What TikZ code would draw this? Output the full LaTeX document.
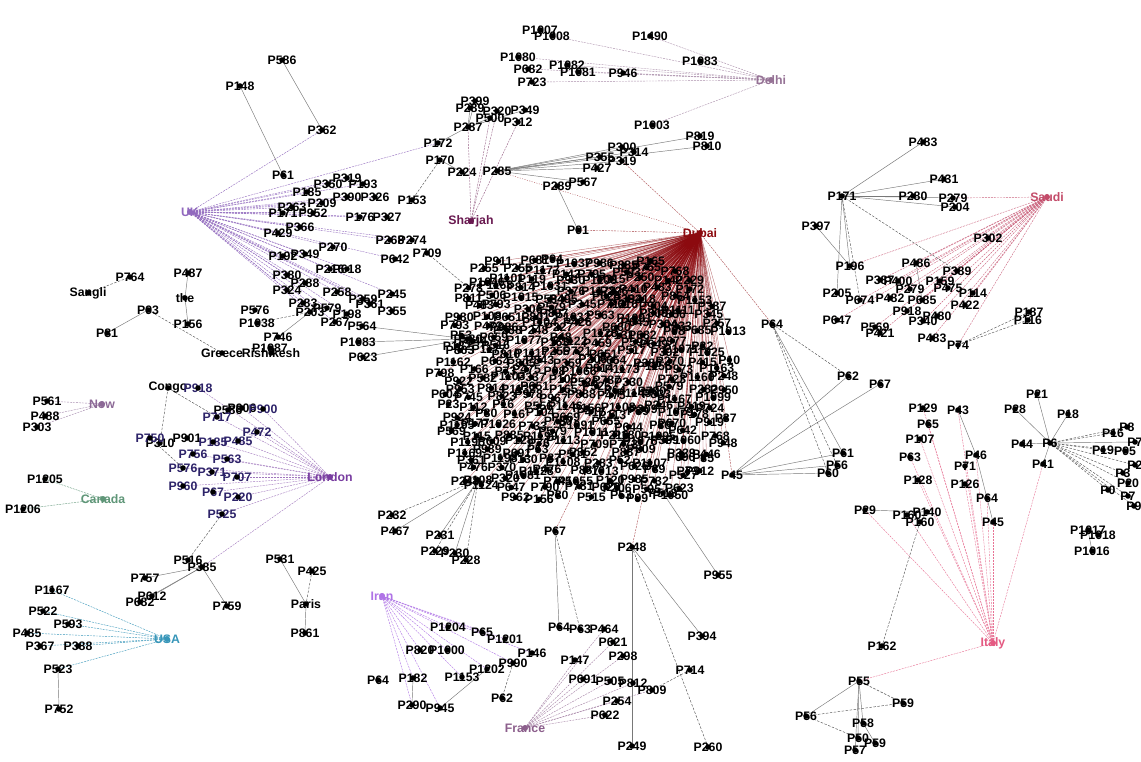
\documentclass[tikz,border=0pt]{standalone}
\usepackage{fontspec}
\setmainfont{Liberation Sans}
\pgfdeclarelayer{edges}
\pgfsetlayers{edges,main}
\newcommand\labfont{\bfseries\fontsize{12.3}{13}\selectfont}
\definecolor{dubaiC}{RGB}{140,10,15}
\definecolor{ukC}{RGB}{145,105,190}
\definecolor{shaC}{RGB}{105,25,80}
\definecolor{delC}{RGB}{150,115,150}
\definecolor{sauC}{RGB}{195,75,105}
\definecolor{itaC}{RGB}{228,90,130}
\definecolor{lonC}{RGB}{120,60,160}
\definecolor{nowC}{RGB}{140,105,150}
\definecolor{canC}{RGB}{95,150,120}
\definecolor{usaC}{RGB}{55,150,185}
\definecolor{iraC}{RGB}{175,115,230}
\definecolor{fraC}{RGB}{140,95,140}
\definecolor{navC}{RGB}{45,35,105}
\definecolor{edgeG}{RGB}{120,120,120}
\newcommand\mkP[4]{\node[lab] (#1) at (#2,#3) {#4}; \fill (#1.center) circle (2.8);}
\newcommand\mkN[4]{\node[lab,text=navC] (#1) at (#2,#3) {#4}; \fill (#1.center) circle (2.8);}
\newcommand\mkH[5]{\node[lab,text=#5] (#1) at (#2,#3) {#4}; \fill[#5] (#1.center) circle (3);}
\begin{document}
\begin{tikzpicture}[x=1pt,y=-1pt,
  lab/.style={font=\labfont, inner sep=0pt, text=black},
  gl/.style={draw=edgeG, line width=0.45pt},
  gd/.style={draw=edgeG!70!black, line width=0.45pt, dash pattern=on 2.5pt off 1.5pt},
  hubline/.style={line width=0.4pt, dash pattern=on 2pt off 1pt},
  dubline/.style={draw=dubaiC, draw opacity=0.6, line width=0.35pt}]
\useasboundingbox (0,0) rectangle (1141,762);
% ---------- hubs
\mkH{dub}{700}{233}{Dubai}{dubaiC}
\mkH{uk}{190}{212}{UK}{ukC}
\mkH{sharjah}{471}{221}{Sharjah}{shaC}
\mkH{delhi}{771}{80}{Delhi}{delC}
\mkH{saudi}{1047}{197}{Saudi}{sauC}
\mkH{italy}{993}{643}{Italy}{itaC}
\mkH{london}{330}{477}{London}{lonC}
\mkH{now}{102}{404}{Now}{nowC}
\mkH{canada}{103}{499}{Canada}{canC}
\mkH{usa}{167}{639}{USA}{usaC}
\mkH{iran}{382}{596}{Iran}{iraC}
\mkH{france}{525}{728}{France}{fraC}
% ---------- black nodes
\foreach \n/\x/\y/\t in {
 p586/282/60/P586, p148/240/86/P148, p362/322/130/P362, p61u/283/175/P61,
 u319/347/178/P319, u350/328/184/P350, u193/363/184/P193, u185/307/192/P185,
 u390/347/197/P390, u326/375/197/P326, u209/322/203/P209, u262/292/207/P263,
 u171/283/213/P171, u952/313/213/P952, u176/360/217/P176, u327/387/217/P327,
 u366/300/227/P366, u429/278/233/P429, u270/333/247/P270, u268/390/240/P268,
 u274/412/240/P274, u042/395/259/P642, u192/283/256/P192, u349/305/254/P349,
 u216/330/269/P216, u618/347/269/P618, u380/287/275/P380, u288/305/283/P288,
 u324/287/290/P324, u258/337/292/P258, u245/392/294/P245, u359/363/299/P359,
 u361/370/304/P361, u355/392/311/P355, u283/303/303/P283, u579/327/308/P579,
 u203/310/312/P203, u198/347/314/P198, u267/335/322/P267,
 p153/412/200/P153, p709/427/253/P709,
 u564/362/326/P564, u1083/358/342/P1083, u623/363/357/P623,
 p576/255/310/P576, p1038/257/323/P1038, p746/278/337/P746, p1987/270/348/P1987,
 p580/468/339/P580,
 sangli/88/293/Sangli, p764/130/277/P764, p487/188/273/P487, the/185/298/the,
 p156/188/324/P156, p93/148/310/P93, p81/107/333/P81, greece/222/353/Greece,
 rishi/271/353/Rishikesh,
 s399/475/101/P399, s289/470/108/P289, s320/497/111/P320, s349/525/110/P349,
 s287/468/127/P287, s500/490/118/P500, s312/518/122/P312,
 p172/438/143/P172, p170/440/160/P170, p224/462/172/P224, p285/497/171/P285,
 d300/622/147/P300, d314/634/152/P314, d355/600/157/P355, d319/622/161/P319,
 d427/597/168/P427, d567/583/182/P567, d289/557/186/P289, d91/578/230/P91,
 d819/700/136/P819, d810/707/146/P810, d1003/652/125/P1003,
 h1007/540/30/P1007, h1008/552/36/P1008, h1490/650/36/P1490, h1080/518/57/P1080,
 h1082/567/65/P1082, h682/528/69/P682, h1081/578/72/P1081, h946/623/73/P946,
 h1083/700/61/P1083, h723/532/82/P723,
 a483/923/142/P483, a431/944/179/P431, a171/842/196/P171, a280/913/196/P280,
 a279/953/198/P279, a204/955/207/P204, a397/816/226/P397, a302/988/238/P302,
 a196/850/266/P196, a486/916/263/P486, a389/957/271/P389, a387/880/280/P387,
 a400/898/281/P400, a159/940/281/P159, a279b/910/289/P279, a475/948/288/P475,
 a114/973/293/P114, a205/837/293/P205, a674/860/300/P674, a482/890/298/P482,
 a685/922/300/P685, a422/965/305/P422, a918/907/311/P918, a480/937/316/P480,
 a340/923/321/P340, a647/837/320/P647, a569/875/327/P569, a421/880/333/P421,
 a483b/932/338/P483, a74/958/345/P74, a187/1029/312/P187, a116/1028/320/P116,
 q64/772/324/P64, q62/848/376/P62, q67/880/384/P67, q61/843/453/P61,
 q56/837/465/P56, q60/828/473/P60, q45/732/475/P45,
 i129/923/408/P129, i65/928/424/P65, i107/920/439/P107, i3/910/457/P63,
 i128/918/480/P128, i43/958/410/P43, i46/976/455/P46, i71/965/466/P71,
 i126/965/484/P126, i64/987/498/P64, i45/993/522/P45, i29/865/510/P29,
 i140/927/512/P140, i160a/907/515/P160, i160/920/522/P160, i162/882/646/P162,
 r6/1050/443/P6, r21/1037/394/P21, r28/1015/409/P28, r18/1068/414/P18,
 r44/1022/444/P44, r41/1043/464/P41, r8/1127/427/P8, r16/1113/433/P16,
 r7a/1135/442/P7, r19/1103/450/P19, r95/1125/451/P95, r2x/1135/465/P2,
 r3/1123/473/P3, r20/1128/483/P20, r0/1108/490/P0, r7b/1128/496/P7,
 r9/1134/506/P9, r1017/1088/530/P1017, r1018/1098/535/P1018, r1016/1092/551/P1016,
 v55/859/681/P55, v59/903/703/P59, v56/806/716/P56, v58/863/723/P58,
 v50/858/738/P50, v59b/875/743/P59, v57/855/750/P57,
 congo/168/388/Congo, n586/228/410/P586, n906/242/408/P906, n310/160/443/P310,
 n901/187/438/P901,
 l516/188/560/P516, l385/202/567/P385, l757/145/578/P757, l612/152/596/P612,
 l682/140/602/P682, l759/227/606/P759,
 j531/280/559/P531, j425/312/571/P425, paris/306/604/Paris, j861/305/633/P861,
 o561/47/401/P561, o488/45/416/P488, o303/37/427/P303,
 k1205/45/479/P1205, k1206/23/509/P1206,
 t1167/52/590/P1167, t522/43/611/P522, t593/68/624/P593, t485/27/633/P485,
 t367/40/646/P367, t388/78/646/P388, t523/58/669/P523, t752/59/709/P752,
 w1204/448/627/P1204, w65/482/632/P65, w1201/505/639/P1201, w146/532/653/P146,
 w820/420/650/P820, w1000/447/650/P1000, w990/513/663/P990, w1202/487/669/P1202,
 w1153/462/677/P1153, w182/413/678/P182, w64/378/680/P64, w290/412/705/P290,
 w945/440/708/P945, w62/502/698/P62,
 b67/555/531/P67, f4/559/627/P64, f3/580/629/P63, f464/604/629/P464,
 f621/613/642/P621, f298/623/656/P298, f147/575/660/P147, f691/583/679/P691,
 f505/610/681/P505, f812/633/683/P812, f809/652/690/P809, f254/617/701/P254,
 f622/605/715/P622, b248/632/547/P248, f249/632/746/P249, b394/702/636/P394,
 b714/690/670/P714, b260/708/747/P260, b513/663/493/P513, b955/718/575/P955,
 g108/478/480/P108, g232/392/515/P232, g467/395/531/P467, g231/440/535/P231,
 g229/435/551/P229, g230/455/553/P230, g228/466/560/P228}
 {\mkP{\n}{\x}{\y}{\t}}
% ---------- navy London nodes
\foreach \n/\x/\y/\t in {
 n918/198/388/P918, n717/217/417/P717, n900/263/409/P900, n472/257/432/P472,
 n750/150/438/P750, n185/213/442/P185, n485/238/441/P485, n756/193/454/P756,
 n563/227/459/P563, n576/183/468/P576, n371/212/472/P371, n707/237/477/P707,
 n960/183/486/P960, n7/213/492/P67, n220/238/497/P220, n525/222/514/P525}
 {\mkN{\n}{\x}{\y}{\t}}
% ---------- Dubai cluster nodes
\pgfmathsetseed{4321}
\foreach \r in {0,...,26}{%
  \pgfmathsetmacro{\cyy}{262+9*\r}%
  \pgfmathsetmacro{\cdy}{abs(\cyy-380)/126}%
  \pgfmathsetmacro{\chw}{130*(1-\cdy^3)^(1/3)}%
  \pgfmathtruncatemacro{\cnn}{max(1,round(2*\chw/26))}%
  \foreach \k in {0,...,\cnn}{%
    \pgfmathsetmacro{\cxx}{585-\chw+\k*2*\chw/\cnn+9*rand+mod(\r,3)*7-7}%
    \pgfmathsetmacro{\cyj}{\cyy+3.5*rand}%
    \pgfmathrandominteger{\cnum}{1}{1199}%
    \node[lab] (c-\r-\k) at (\cxx,\cyj) {P\cnum};
    \fill (c-\r-\k.center) circle (2.8);
  }
}
% ---------- edges (one layer block)
\begin{pgfonlayer}{edges}
\fill[white] (0,0) rectangle (1141,762);
\foreach \r in {0,...,26}{%
  \pgfmathsetmacro{\cyy}{262+9*\r}%
  \pgfmathsetmacro{\cdy}{abs(\cyy-380)/126}%
  \pgfmathsetmacro{\chw}{130*(1-\cdy^3)^(1/3)}%
  \pgfmathtruncatemacro{\cnn}{max(1,round(2*\chw/26))}%
  \foreach \k in {0,...,\cnn}{%
    \draw[dubline] (dub.center) -- (c-\r-\k.center);
  }
}
\foreach \b in {d91,d319,q45,q64,b67,b248,b513}
  \draw[dubline,draw opacity=0.8,dash pattern=on 2pt off 1pt] (dub.center) -- (\b.center);
\draw[dubline,draw opacity=0.8,dash pattern=on 1pt off 1.5pt] (dub.center) -- (p285.center);
\foreach \b in {p362,u319,u350,u193,u185,u390,u326,u209,u262,u171,u952,u176,u327,u366,u429,u270,u268,u274,u042,u192,u349,u216,u618,u380,u288,u324,u258,u245,u359,u361,u355,u283,u579,u203,u198,u267,p172}
  \draw[hubline,draw=ukC] (uk.center) -- (\b.center);
\foreach \b in {s287,s500,s312,s320}
  \draw[hubline,draw=shaC!70] (sharjah.center) -- (\b.center);
\foreach \b in {h1008,h1490,h1080,h1082,h682,h1081,h946,h1083,h723,d1003}
  \draw[hubline,draw=delC!80] (delhi.center) -- (\b.center);
\foreach \b in {a279,a302,a196,a486,a389,a387,a400,a159,a279b,a475,a114,a685,a422,a918,a480,a340,a569,a421,a483b,a74,a674,a482,a647}
  \draw[hubline,draw=sauC!85] (saudi.center) -- (\b.center);
\foreach \b in {i129,i65,i107,i3,i128,i43,i46,i71,i126,i64,i45,i29,i160a,v55,r41}
  \draw[hubline,draw=itaC!85] (italy.center) -- (\b.center);
\foreach \b in {n918,n717,n906,n900,n472,n185,n485,n756,n563,n576,n371,n707,n960,n7,n220,n525,l385}
  \draw[hubline,draw=lonC!70] (london.center) -- (\b.center);
\foreach \b in {o561,o488,o303}
  \draw[hubline,draw=nowC!80] (now.center) -- (\b.center);
\foreach \b in {k1205,k1206}
  \draw[hubline,draw=canC] (canada.center) -- (\b.center);
\foreach \b in {t1167,t522,t593,t485,t367,t388,t523}
  \draw[hubline,draw=usaC] (usa.center) -- (\b.center);
\foreach \b in {w1204,w65,w1201,w146,w990,w1202,w1000,w820,w1153,w182,w290,w945}
  \draw[hubline,draw=iraC] (iran.center) -- (\b.center);
\foreach \b in {f464,f621,f298,f147,f691,f505,f812,f809,f254,f622}
  \draw[hubline,draw=fraC!80] (france.center) -- (\b.center);
% grey solid
\foreach \a/\b in {p586/p362,p148/p61u,p746/u203,p580/u564,p580/u1083,p580/u623,
  p487/the,the/p156,p93/p81,p172/s287,p170/p224,d289/d91,
  a171/a483,a171/a431,a171/a280,a171/a279,a171/a204,a171/a205,a171/a196,a397/a196,a486/a685,
  q45/q62,q45/q67,q45/q61,q45/q56,q45/q60,q64/q61,
  i43/i46,i46/i64,i64/i45,i29/i140,i160/i140,
  r6/r21,r6/r28,r6/r18,r6/r44,r6/r41,r6/r7a,r1017/r1016,
  v55/v56,v55/v58,v55/v50,v55/v57,v58/v59b,
  l385/l757,l385/l612,l385/l682,l385/l759,l516/l385,
  j531/paris,paris/j861,t523/t752,
  w1202/w945,w182/w290,
  b67/f4,b248/f249,b248/b394,b513/b955,
  g108/g467,g108/g231,g108/g230}
  \draw[gl] (\a.center) -- (\b.center);
\foreach \b in {d300,d314,d355,d319,d427,d567,d819,d810}
  \draw[gl] (p285.center) -- (\b.center);
\foreach \b in {s399,s289,s500,s349}
  \draw[gl] (s287.center) -- (\b.center);
% grey dashed
\foreach \a/\b in {p170/p153,p709/c-3-0,p1038/u203,sangli/p764,p93/greece,
  a171/a674,a171/a389,a74/a187,a74/a116,
  q64/q62,q64/q56,q64/q60,
  i160/i162,r6/r8,r6/r16,r6/r19,r6/r95,r6/r2x,r6/r3,r6/r20,r6/r0,r6/r7b,r6/r9,
  v55/v59,v56/v59,v56/v50,
  congo/n310,congo/n717,n750/n576,n525/l516,j425/paris,
  w990/w62,b67/f3,b248/b260,b714/f809,
  g108/g232,g108/g229,g108/g228}
  \draw[gd] (\a.center) -- (\b.center);
\end{pgfonlayer}
\end{tikzpicture}
\end{document}
